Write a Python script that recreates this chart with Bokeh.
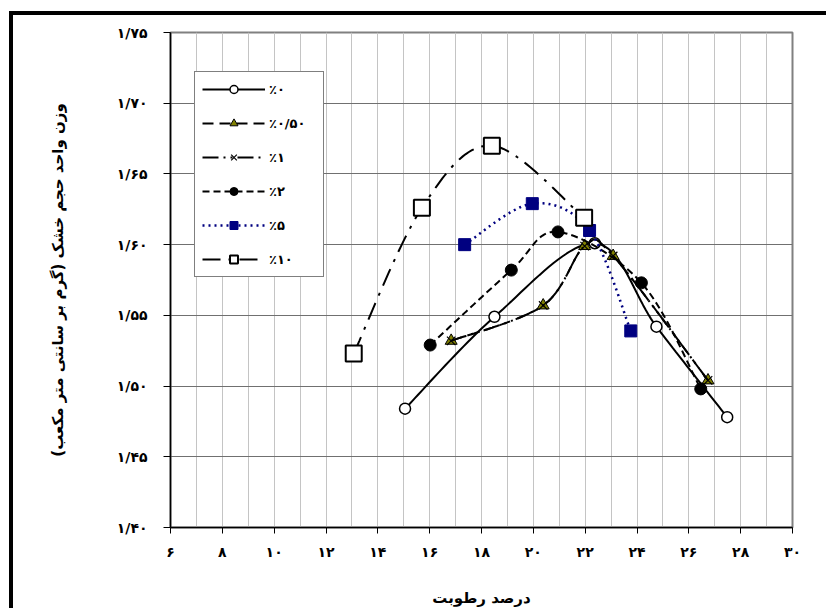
import numpy as np
from bokeh.plotting import figure
from bokeh.models import FixedTicker, Legend, LegendItem
from bokeh.embed import file_html
from bokeh.resources import INLINE

# ---------------- data ----------------
x_0 = [15.05, 18.50, 22.37, 24.75, 27.48]
y_0 = [1.484, 1.549, 1.601, 1.542, 1.478]

x_05 = [16.83, 20.38, 21.98, 23.08, 26.74]
y_05 = [1.532, 1.557, 1.599, 1.592, 1.504]

x_1 = [16.83, 20.38, 21.98, 23.08, 26.74]
y_1 = [1.532, 1.557, 1.599, 1.592, 1.504]

x_2 = [16.02, 19.15, 20.95, 24.17, 26.46]
y_2 = [1.529, 1.582, 1.609, 1.573, 1.498]

x_5 = [17.35, 19.96, 22.17, 23.76]
y_5 = [1.600, 1.629, 1.610, 1.539]

x_10 = [13.07, 15.70, 18.40, 21.96]
y_10 = [1.523, 1.626, 1.670, 1.619]

labels = ["٪۰", "٪۰/۵۰", "٪۱", "٪۲", "٪۵", "٪۱۰"]

x_ticks = [6, 8, 10, 12, 14, 16, 18, 20, 22, 24, 26, 28, 30]
x_tick_labels = ["۶", "۸", "۱۰", "۱۲", "۱۴", "۱۶", "۱۸", "۲۰", "۲۲", "۲۴", "۲۶", "۲۸", "۳۰"]
y_ticks = [1.40, 1.45, 1.50, 1.55, 1.60, 1.65, 1.70, 1.75]
y_tick_labels = ["۱/۴۰", "۱/۴۵", "۱/۵۰", "۱/۵۵", "۱/۶۰", "۱/۶۵", "۱/۷۰", "۱/۷۵"]

x_title = "درصد رطوبت"
y_title = "وزن واحد حجم خشک (گرم بر سانتی متر مکعب)"

FONT = "DejaVu Sans"


def smooth(xs, ys, sx=26.0, sy=1412.6, n=24):
    P = np.column_stack([np.asarray(xs) * sx, np.asarray(ys) * sy])
    out = [P[0]]
    m = len(P)
    for i in range(m - 1):
        p0 = P[i - 1] if i > 0 else P[i]
        p1 = P[i]
        p2 = P[i + 1]
        p3 = P[i + 2] if i + 2 < m else P[i + 1]
        c1 = p1 + (p2 - p0) / 6.0
        c2 = p2 - (p3 - p1) / 6.0
        t = np.linspace(0, 1, n)[1:, None]
        seg = ((1 - t) ** 3) * p1 + 3 * ((1 - t) ** 2) * t * c1 + 3 * (1 - t) * t ** 2 * c2 + t ** 3 * p2
        out.extend(seg)
    out = np.array(out)
    return out[:, 0] / sx, out[:, 1] / sy


p = figure(width=817, height=597, x_range=(6, 30), y_range=(1.40, 1.75),
           output_backend="svg", toolbar_location=None,
           min_border_left=157, min_border_top=17, min_border_right=38, min_border_bottom=85)
p.styles = {"border-left": "4px solid black", "border-top": "4px solid black",
            "margin-left": "9px", "margin-top": "11px"}

p.background_fill_color = "white"
p.border_fill_color = "white"
p.outline_line_color = "#808080"
p.outline_line_width = 2

# grids
p.xgrid.ticker = FixedTicker(ticks=list(range(6, 31)))
p.xgrid.grid_line_color = "#c4c4c4"
p.xgrid.grid_line_width = 1
p.ygrid.ticker = FixedTicker(ticks=y_ticks)
p.ygrid.grid_line_color = "#707070"
p.ygrid.grid_line_width = 1

# axes
p.xaxis.ticker = FixedTicker(ticks=x_ticks)
p.xaxis.major_label_overrides = dict(zip(x_ticks, x_tick_labels))
p.yaxis.ticker = FixedTicker(ticks=y_ticks)
p.yaxis.major_label_overrides = dict(zip(y_ticks, y_tick_labels))
for ax in (p.xaxis, p.yaxis):
    ax.axis_line_color = "black"
    ax.axis_line_width = 1.5
    ax.major_tick_line_color = "black"
    ax.major_tick_in = 0
    ax.minor_tick_line_color = None
    ax.major_label_text_font = FONT
    ax.major_label_text_font_style = "bold"
    ax.major_label_text_font_size = "14px"
    ax.major_label_text_color = "black"
    ax.axis_label_text_font = FONT
    ax.axis_label_text_font_style = "bold"
    ax.axis_label_text_font_size = "15px"
    ax.axis_label_text_color = "black"
p.xaxis.major_tick_out = 6
p.yaxis.major_tick_out = 7
p.xaxis.major_label_standoff = 10
p.yaxis.major_label_standoff = 16
p.xaxis.axis_label = x_title
p.yaxis.axis_label = y_title
p.xaxis.axis_label_standoff = 26
p.yaxis.axis_label_standoff = 47

items = []

# 0%
sx_, sy_ = smooth(x_0, y_0)
l0 = p.line(sx_, sy_, line_color="black", line_width=2)
m0 = p.scatter(x_0, y_0, marker="circle", size=11, fill_color="white", line_color="black", line_width=1.5)
items.append(LegendItem(label=labels[0], renderers=[l0, m0]))

# 0.5%
sx_, sy_ = smooth(x_05, y_05)
l05 = p.line(sx_, sy_, line_color="black", line_width=2, line_dash="11 6")
m05 = p.scatter(x_05, y_05, marker="triangle", size=12, fill_color="#808000", line_color="black", line_width=1)
items.append(LegendItem(label=labels[1], renderers=[l05, m05]))

# 1%
sx_, sy_ = smooth(x_1, y_1)
l1 = p.line(sx_, sy_, line_color="black", line_width=2, line_dash="16 5 2 5 2 5")
m1 = p.scatter(x_1, y_1, marker="x", size=12, line_color="black", line_width=1.2)
items.append(LegendItem(label=labels[2], renderers=[l1, m1]))

# 2%
sx_, sy_ = smooth(x_2, y_2)
l2 = p.line(sx_, sy_, line_color="black", line_width=2, line_dash="7 4")
m2 = p.scatter(x_2, y_2, marker="circle", size=12, fill_color="black", line_color="black")
items.append(LegendItem(label=labels[3], renderers=[l2, m2]))

# 5%
sx_, sy_ = smooth(x_5, y_5)
l5 = p.line(sx_, sy_, line_color="#000080", line_width=2.5, line_dash="2 4")
m5 = p.scatter(x_5, y_5, marker="square", size=12, fill_color="#000080", line_color="#000080")
items.append(LegendItem(label=labels[4], renderers=[l5, m5]))

# 10%
sx_, sy_ = smooth(x_10, y_10)
l10 = p.line(sx_, sy_, line_color="black", line_width=2, line_dash="18 8 3 8")
m10 = p.scatter(x_10, y_10, marker="square", size=16, fill_color="white", line_color="black", line_width=2)
items.append(LegendItem(label=labels[5], renderers=[l10, m10]))

legend = Legend(items=items, location=(24, 250))
legend.glyph_width = 63
legend.glyph_height = 20
legend.label_height = 20
legend.label_width = 47
legend.spacing = 14
legend.padding = 7
legend.label_standoff = 4
legend.label_text_font = FONT
legend.label_text_font_style = "bold"
legend.label_text_font_size = "13px"
legend.label_text_color = "black"
legend.border_line_color = "black"
legend.border_line_width = 1
legend.background_fill_color = "white"
legend.background_fill_alpha = 1
p.add_layout(legend, "center")

open("out.html", "w").write(file_html(p, INLINE))
